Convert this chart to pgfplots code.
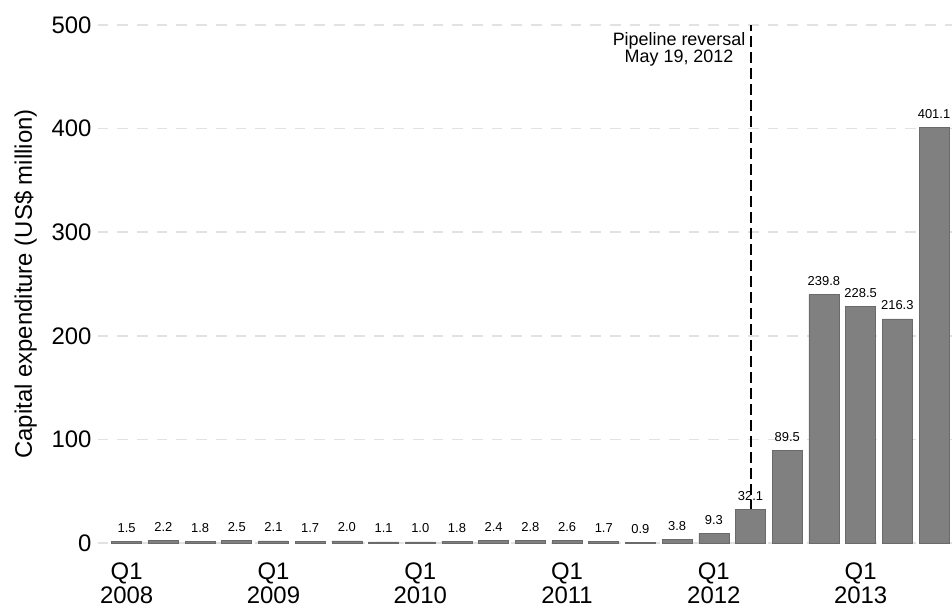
\documentclass[border=0pt]{standalone}
\usepackage{pgfplots}
\pgfplotsset{compat=1.18}
\usepackage{fontspec}
\setmainfont{Liberation Sans}
\definecolor{barfill}{HTML}{808080}
\definecolor{baredge}{HTML}{6A6A6A}
\definecolor{gridc}{HTML}{E2E2E2}
\begin{document}
\begin{tikzpicture}
\useasboundingbox (-97.7bp,-69bp) rectangle (854.3bp,543bp);
\begin{axis}[
  scale only axis, width=854.3bp, height=518bp,
  xmin=0.21, xmax=23.49, ymin=0, ymax=500,
  axis line style={draw=none},
  major tick length=0pt,
  ytick={0,100,...,500},
  xtick={1,5,9,13,17,21},
  xticklabels={{Q1\\2008},{Q1\\2009},{Q1\\2010},{Q1\\2011},{Q1\\2012},{Q1\\2013}},
  xticklabel style={align=center, font=\fontsize{24}{24}\selectfont, inner sep=0pt, anchor=north, yshift=-20bp},
  yticklabel style={font=\fontsize{24}{24}\selectfont, inner sep=0pt, anchor=east, xshift=-6bp},
  /pgf/number format/assume math mode=true,
  ymajorgrids,
  grid style={draw=gridc, line width=1.5bp, dash pattern=on 10.7bp off 9bp},
  ylabel={Capital expenditure (US\$ million)},
  ylabel style={font=\fontsize{24}{24}\selectfont, at={(axis description cs:-0.0769,0.5)}, anchor=base},
  clip=false,
]
\addplot[black, line width=2bp, dash pattern=on 11bp off 5bp, forget plot] coordinates {(18,0) (18,500)};
\addplot[ybar, bar width=30bp, fill=barfill, draw=baredge, line width=0.6bp,
  nodes near coords={\pgfmathprintnumber[fixed,fixed zerofill,precision=1,assume math mode=true]{\pgfplotspointmeta}},
  nodes near coords style={font=\fontsize{13}{13}\selectfont, inner sep=0pt, anchor=base, yshift=9bp, text=black}]
  coordinates {
  (1,1.5) (2,2.2) (3,1.8) (4,2.5)
  (5,2.1) (6,1.7) (7,2.0) (8,1.1)
  (9,1.0) (10,1.8) (11,2.4) (12,2.8)
  (13,2.6) (14,1.7) (15,0.9) (16,3.8)
  (17,9.3) (18,32.1) (19,89.5) (20,239.8)
  (21,228.5) (22,216.3) (23,401.1)
  };
\node[align=center, font=\fontsize{18}{17.5}\selectfont, inner sep=0pt, anchor=north east, xshift=-5bp, yshift=-7bp] at (axis cs:18,500) {Pipeline reversal\\May 19, 2012};
\end{axis}
\end{tikzpicture}
\end{document}
